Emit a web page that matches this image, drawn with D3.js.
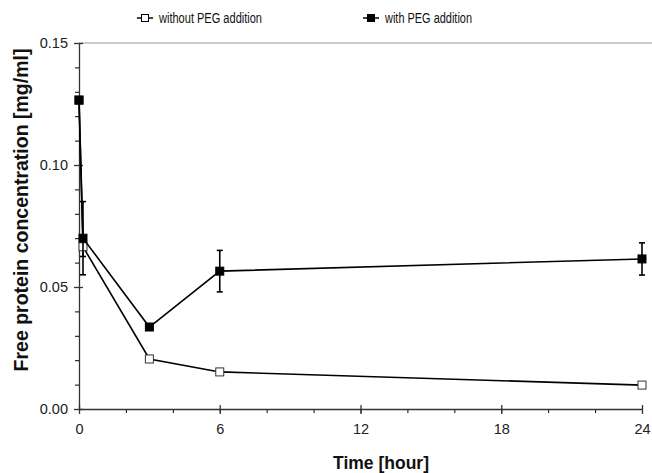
<!DOCTYPE html>
<html>
<head>
<meta charset="utf-8">
<script src="https://cdn.jsdelivr.net/npm/d3@7"></script>
<style>
  html, body { margin: 0; padding: 0; background: #fff; }
  svg { display: block; font-family: "Liberation Sans", Arial, sans-serif; }
</style>
</head>
<body>
<svg id="chart" width="652" height="473"></svg>
<script>
// Sampling times (hours)
const times = [0, 0.17, 3, 6, 24];
// Free protein concentration, mg/ml
const withoutPEG = [0.1266, 0.0665, 0.0205, 0.0152, 0.0098];
const withoutPEGErr = [0, 0.004, 0, 0, 0];
const withPEG = [0.1266, 0.0700, 0.0336, 0.0565, 0.0615];
const withPEGErr = [0, 0.015, 0, 0.0085, 0.0066];
const xTicks = [0, 6, 12, 18, 24];
const yTicks = [0.00, 0.05, 0.10, 0.15];
const seriesNames = ["without PEG addition", "with PEG addition"];

const svg = d3.select("#chart");
const x = d3.scaleLinear().domain([0, 24]).range([79, 642]);
const y = d3.scaleLinear().domain([0, 0.15]).range([409, 43]);
const axisColor = "#333";

// top frame line
svg.append("line")
  .attr("x1", x(0)).attr("x2", 652)
  .attr("y1", y(0.15)).attr("y2", y(0.15))
  .attr("stroke", "#999").attr("stroke-width", 1.2);

// minor ticks
const yMinor = d3.range(0, 16).map(i => i * 0.01);
const xMinor = d3.range(0, 13).map(i => i * 2);
const yMinorAxis = d3.axisLeft(y).tickValues(yMinor).tickSize(4).tickFormat("");
const xMinorAxis = d3.axisBottom(x).tickValues(xMinor).tickSize(4).tickFormat("");
svg.append("g").attr("transform", `translate(${x(0)},0)`).call(yMinorAxis)
  .call(g => g.select(".domain").remove());
svg.append("g").attr("transform", `translate(0,${y(0)})`).call(xMinorAxis)
  .call(g => g.select(".domain").remove());

// major axes
const yAxis = d3.axisLeft(y).tickValues(yTicks).tickFormat(d3.format(".2f")).tickSizeOuter(0).tickSizeInner(5).tickPadding(6);
const xAxis = d3.axisBottom(x).tickValues(xTicks).tickFormat(d3.format("d")).tickSizeOuter(0).tickSizeInner(5).tickPadding(10);
const gy = svg.append("g").attr("transform", `translate(${x(0)},0)`).call(yAxis);
const gx = svg.append("g").attr("transform", `translate(0,${y(0)})`).call(xAxis);
[gx, gy].forEach(g => {
  g.selectAll("path, line").attr("stroke", axisColor).attr("stroke-width", 1.3);
  g.selectAll("text").attr("fill", "#222").style("font-size", "14.5px");
});
// major ticks cross the axis line
gy.selectAll(".tick line").attr("x1", 4);
gx.selectAll(".tick line").attr("y1", -4);

// axis titles
svg.append("text")
  .attr("x", 381).attr("y", 469)
  .attr("text-anchor", "middle")
  .style("font-size", "17.5px").style("font-weight", "bold").attr("fill", "#111")
  .text("Time [hour]");
svg.append("text")
  .attr("transform", "translate(28,210) rotate(-90)")
  .attr("text-anchor", "middle")
  .style("font-size", "19.5px").style("font-weight", "bold").attr("fill", "#111")
  .text("Free protein concentration [mg/ml]");

const line = d3.line().x(d => x(d[0])).y(d => y(d[1]));
const ms = 8;

function drawSeries(vals, errs, filled) {
  const pts = times.map((t, i) => [t, vals[i], errs[i]]);
  svg.append("path").datum(pts).attr("d", line)
    .attr("fill", "none").attr("stroke", "#000").attr("stroke-width", 1.6);
  const eb = svg.append("g");
  pts.filter(p => p[2] > 0).forEach(p => {
    const cx = x(p[0]);
    eb.append("line").attr("x1", cx).attr("x2", cx)
      .attr("y1", y(p[1] - p[2])).attr("y2", y(p[1] + p[2]))
      .attr("stroke", "#000").attr("stroke-width", 1.6);
    [p[1] - p[2], p[1] + p[2]].forEach(v => {
      eb.append("line").attr("x1", cx - 3).attr("x2", cx + 3)
        .attr("y1", y(v)).attr("y2", y(v))
        .attr("stroke", "#000").attr("stroke-width", 1.6);
    });
  });
  svg.append("g").selectAll("rect").data(pts).join("rect")
    .attr("x", d => x(d[0]) - ms / 2).attr("y", d => y(d[1]) - ms / 2)
    .attr("width", ms).attr("height", ms)
    .attr("fill", filled ? "#000" : "#fff")
    .attr("stroke", filled ? "#000" : "#333").attr("stroke-width", 1);
}

drawSeries(withoutPEG, withoutPEGErr, false);
drawSeries(withPEG, withPEGErr, true);

// legend (condensed text fitted to a fixed width)
const legendItems = [
  { name: seriesNames[0], filled: false, x: 137, w: 103 },
  { name: seriesNames[1], filled: true, x: 363, w: 87 }
];
const leg = svg.append("g");
legendItems.forEach(it => {
  const cy = 18;
  leg.append("line").attr("x1", it.x).attr("x2", it.x + 16).attr("y1", cy).attr("y2", cy)
    .attr("stroke", "#000").attr("stroke-width", 1.5);
  leg.append("rect").attr("x", it.x + 8 - 3.5).attr("y", cy - 3.5)
    .attr("width", 7).attr("height", 7)
    .attr("fill", it.filled ? "#000" : "#fff").attr("stroke", "#000").attr("stroke-width", 1);
  leg.append("text").attr("x", it.x + 22).attr("y", cy + 5)
    .attr("textLength", it.w).attr("lengthAdjust", "spacingAndGlyphs")
    .style("font-size", "14px").attr("fill", "#111").text(it.name);
});
</script>
</body>
</html>
